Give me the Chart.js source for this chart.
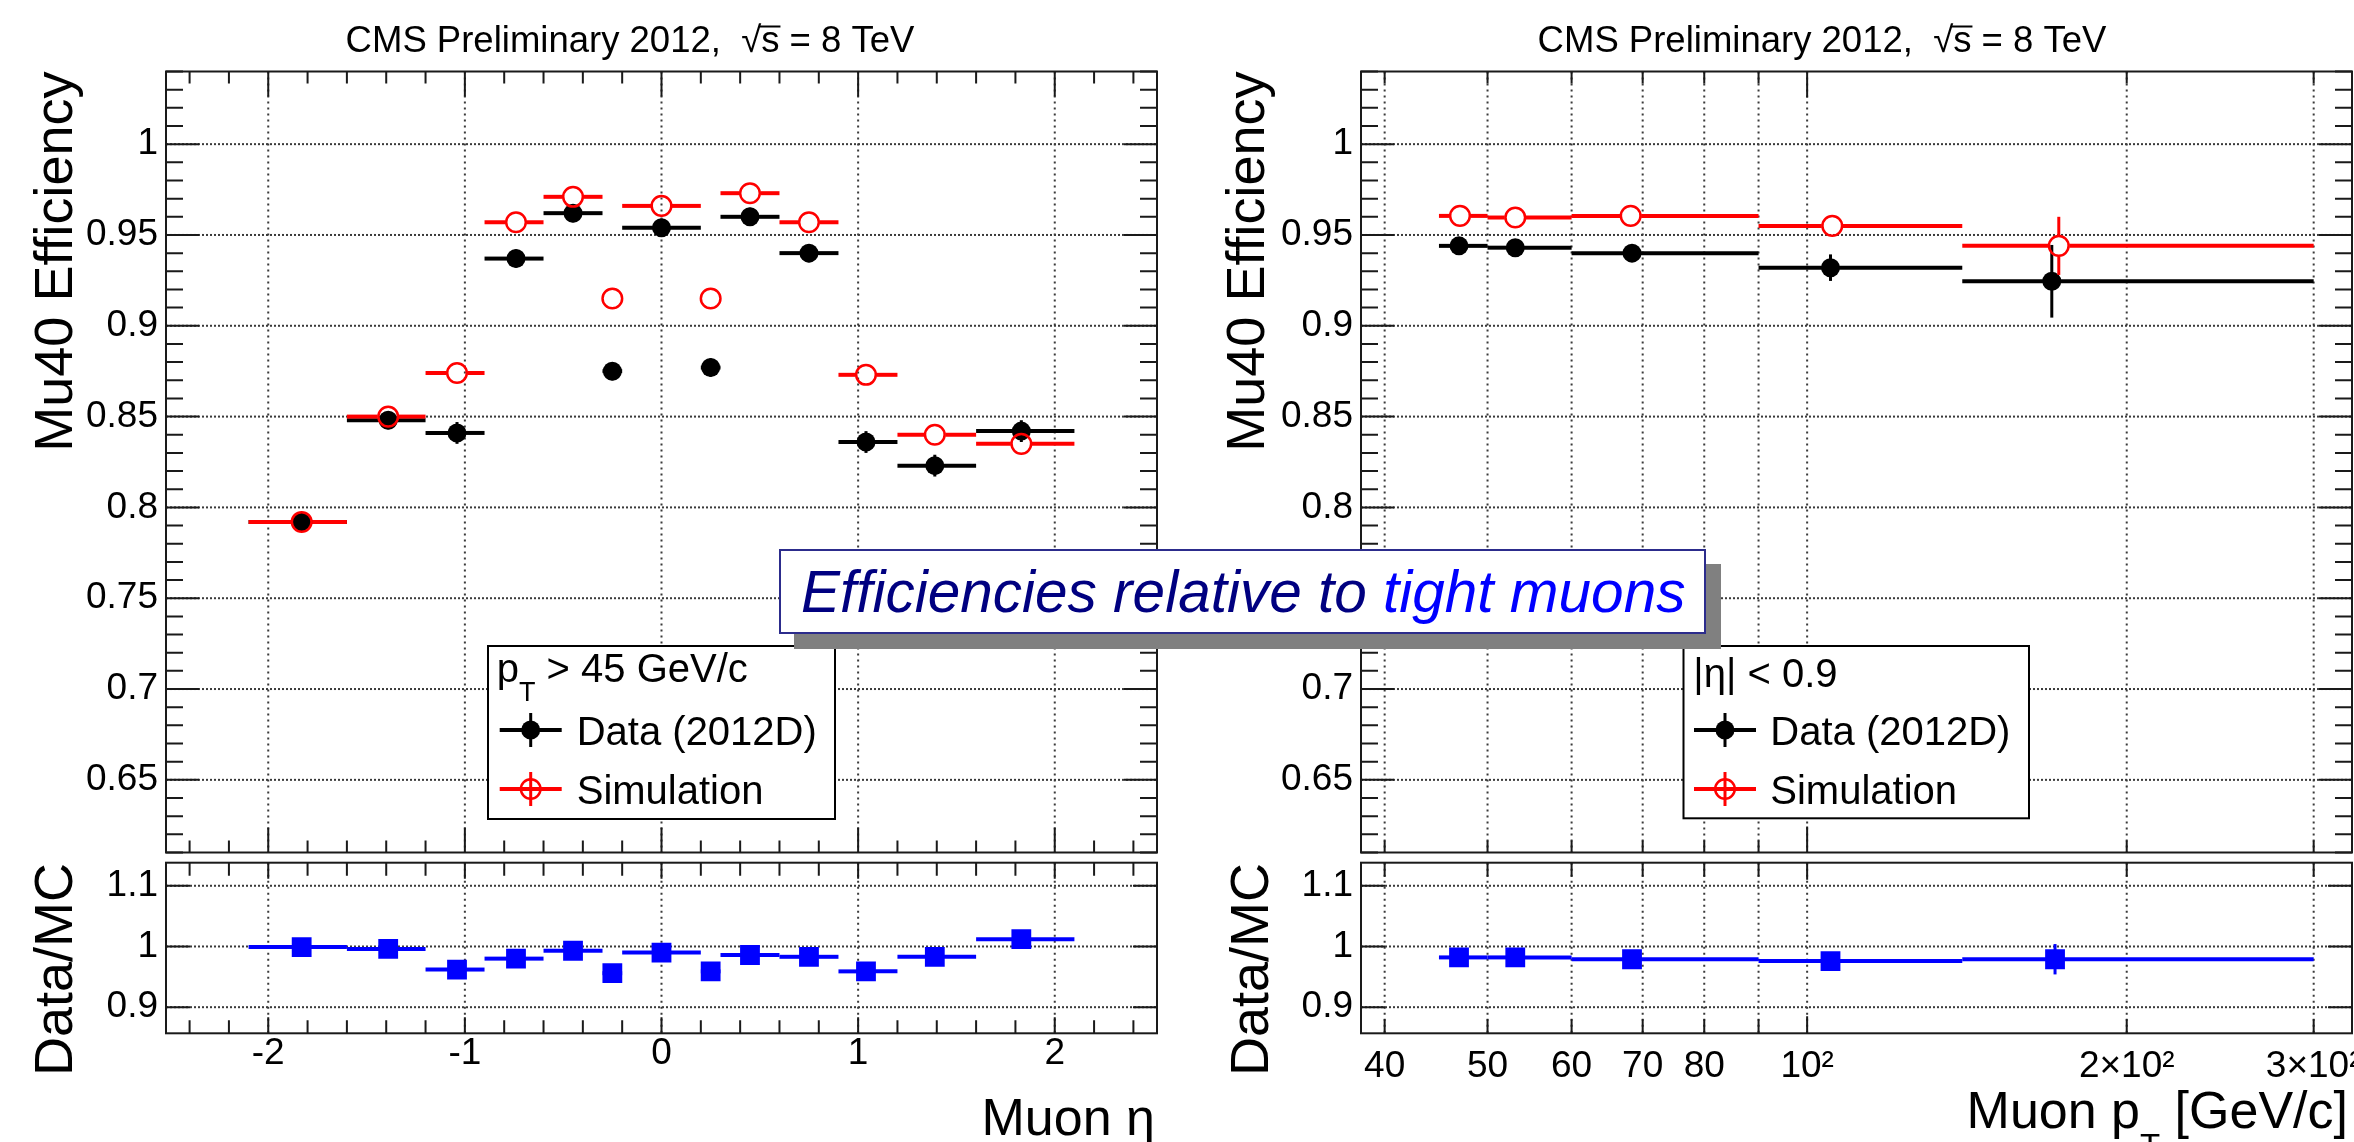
<!DOCTYPE html>
<html>
<head>
<meta charset="utf-8">
<title>Mu40 efficiency</title>
<script src="https://cdn.jsdelivr.net/npm/chart.js@4.4.1/dist/chart.umd.min.js"></script>
<style>
  html, body { margin:0; padding:0; background:#ffffff; overflow:hidden; }
  #page { position:relative; width:2354px; height:1142px; overflow:hidden; background:#ffffff; }
  #page canvas { position:absolute; }
  #note { position:absolute; left:779px; top:549px; width:903px; height:81px; padding-left:20px;
          border:2px solid #2c2c8c; background:#ffffff; box-shadow:15px 15px 0 #808080; z-index:10;
          font-family:"Liberation Sans", Arial, Helvetica, sans-serif; font-style:italic; font-size:58.5px;
          line-height:81px; white-space:nowrap; box-sizing:content-box; }
</style>
</head>
<body>
<div id="page">
  <canvas id="etaMain" width="1180" height="857" style="left:0px;top:0px"></canvas>
  <canvas id="etaRatio" width="1180" height="285" style="left:0px;top:857px"></canvas>
  <canvas id="ptMain" width="1174" height="857" style="left:1180px;top:0px"></canvas>
  <canvas id="ptRatio" width="1174" height="285" style="left:1180px;top:857px"></canvas>
  <div id="note"><span style="color:#000080">Efficiencies relative to</span> <span style="color:#0000ff">tight muons</span></div>
</div>
<script>
const FONT = '"Liberation Sans", Arial, Helvetica, sans-serif';

// ---------------- eta binned data ----------------
const etaBinLo   = [-2.1, -1.6, -1.2, -0.9, -0.6, -0.3, -0.2, 0.2, 0.3, 0.6, 0.9, 1.2, 1.6];
const etaBinHi   = [-1.6, -1.2, -0.9, -0.6, -0.3, -0.2, 0.2, 0.3, 0.6, 0.9, 1.2, 1.6, 2.1];
const etaPointX  = [-1.83, -1.39, -1.04, -0.74, -0.45, -0.25, 0.0, 0.25, 0.45, 0.75, 1.04, 1.39, 1.83];
const etaData    = [0.792, 0.848, 0.841, 0.937, 0.962, 0.875, 0.954, 0.877, 0.960, 0.940, 0.836, 0.823, 0.842];
const etaDataErr = [0.004, 0.005, 0.006, 0.005, 0.005, 0.005, 0.005, 0.005, 0.005, 0.005, 0.006, 0.006, 0.006];
const etaSim     = [0.792, 0.850, 0.874, 0.957, 0.971, 0.915, 0.966, 0.915, 0.973, 0.957, 0.873, 0.840, 0.835];
const etaSimErr  = [0.003, 0.003, 0.003, 0.003, 0.003, 0.003, 0.003, 0.003, 0.003, 0.003, 0.003, 0.003, 0.003];
const etaRatio   = [0.999, 0.996, 0.962, 0.980, 0.993, 0.956, 0.990, 0.959, 0.986, 0.983, 0.959, 0.983, 1.012];
const etaRatioErr= [0.012, 0.012, 0.012, 0.011, 0.010, 0.012, 0.011, 0.012, 0.011, 0.011, 0.012, 0.012, 0.012];

// ---------------- pT binned data ----------------
const ptBinLo    = [45, 50, 60, 90, 140];
const ptBinHi    = [50, 60, 90, 140, 300];
const ptDataX    = [47.0, 53.1, 68.4, 105.2, 170.0];
const ptSimX     = [47.1, 53.1, 68.2, 105.6, 172.6];
const ptRatioX   = [47.0, 53.1, 68.4, 105.2, 171.2];
const ptData     = [0.944, 0.943, 0.940, 0.932, 0.9245];
const ptDataErr  = [0.003, 0.003, 0.003, 0.0073, 0.020];
const ptSim      = [0.9605, 0.9596, 0.9605, 0.955, 0.944];
const ptSimErr   = [0.002, 0.002, 0.002, 0.003, 0.016];
const ptRatio    = [0.982, 0.982, 0.979, 0.976, 0.979];
const ptRatioErr = [0.007, 0.007, 0.007, 0.010, 0.025];

// ---------------- axes ----------------
const etaRange   = [-2.52, 2.52];
const ptRange    = [38, 326];
const effRange   = [0.61, 1.04];
const ratioRange = [0.857, 1.138];
const etaTickValues   = [-2, -1, 0, 1, 2];
const etaTickLabels   = ['-2', '-1', '0', '1', '2'];
const effTickValues   = [0.65, 0.7, 0.75, 0.8, 0.85, 0.9, 0.95, 1];
const ratioTickValues = [0.9, 1, 1.1];
const ptTickValues    = [40, 50, 60, 70, 80, 100, 200, 300];
const ptTickLabels    = ['40', '50', '60', '70', '80', '10\u00B2', '2\u00D710\u00B2', '3\u00D710\u00B2'];
const ptGridValues    = [40, 50, 60, 70, 80, 90, 100, 200, 300];

const etaMinorTicks = [];
for (let k = -12; k <= 12; k++) if (k % 5 !== 0) etaMinorTicks.push(k / 5);
const effMinorTicks = [];
for (let k = 61; k <= 104; k++) if (k % 5 !== 0) effMinorTicks.push(k / 100);

// ---------------- datasets ----------------
const pts = (xs, ys) => xs.map((x, i) => ({ x: x, y: ys[i] }));

function seriesData(xs, ys, errs, lo, hi) {
  return { label: 'Data (2012D)', data: pts(xs, ys), yErr: errs, binLo: lo, binHi: hi,
    lineColor: '#000000', hWidth: 4, vWidth: 3, gap: 0, showLine: false,
    pointStyle: 'circle', pointRadius: 9.5, pointHoverRadius: 9.5,
    backgroundColor: '#000000', borderColor: '#000000', borderWidth: 0, order: 2 };
}
function seriesSim(xs, ys, errs, lo, hi) {
  return { label: 'Simulation', data: pts(xs, ys), yErr: errs, binLo: lo, binHi: hi,
    lineColor: '#ff0000', hWidth: 4, vWidth: 3, gap: 10.5, showLine: false,
    pointStyle: 'circle', pointRadius: 9.8, pointHoverRadius: 9.8,
    backgroundColor: 'rgba(255,255,255,0)', borderColor: '#ff0000', borderWidth: 2.5, order: 1 };
}
function seriesRatio(xs, ys, errs, lo, hi) {
  return { label: 'Data/MC', data: pts(xs, ys), yErr: errs, binLo: lo, binHi: hi,
    lineColor: '#0000ff', hWidth: 4, vWidth: 3, gap: 0, showLine: false,
    pointStyle: 'rect', pointRadius: 14, pointHoverRadius: 14,
    backgroundColor: '#0000ff', borderColor: '#0000ff', borderWidth: 0, order: 1 };
}

// error bars drawn through the chart scales, right before each dataset (ROOT style: skip the marker area)
const errorBarPlugin = {
  id: 'rootErrorBars',
  beforeDatasetDraw(chart, args) {
    const ds = chart.data.datasets[args.index];
    if (!ds.yErr) return;
    const xs = chart.scales.x, ys = chart.scales.y, ctx = chart.ctx;
    const g = ds.gap || 0;
    const seg = (x1, y1, x2, y2) => { ctx.beginPath(); ctx.moveTo(x1, y1); ctx.lineTo(x2, y2); ctx.stroke(); };
    ctx.save();
    ctx.strokeStyle = ds.lineColor;
    ctx.lineCap = 'butt';
    ds.data.forEach((p, i) => {
      const px = xs.getPixelForValue(p.x), py = ys.getPixelForValue(p.y);
      const xl = xs.getPixelForValue(ds.binLo[i]), xr = xs.getPixelForValue(ds.binHi[i]);
      const yt = ys.getPixelForValue(p.y + ds.yErr[i]), yb = ys.getPixelForValue(p.y - ds.yErr[i]);
      ctx.lineWidth = ds.hWidth;
      if (px - g > xl) seg(xl, py, px - g, py);
      if (xr > px + g) seg(px + g, py, xr, py);
      ctx.lineWidth = ds.vWidth;
      if (py - g > yt) seg(px, yt, px, py - g);
      if (yb > py + g) seg(px, py + g, px, yb);
    });
    ctx.restore();
  }
};
Chart.register(errorBarPlugin);

// grid, inner ticks, frame, texts
function framePlugin(cfg) {
  return {
    id: 'rootFrame',
    beforeDatasetsDraw(chart) {
      const ctx = chart.ctx, a = chart.chartArea, x = chart.scales.x, y = chart.scales.y;
      ctx.save();
      ctx.strokeStyle = '#3a3a3a';
      ctx.lineWidth = 2;
      ctx.setLineDash([2, 4]);
      cfg.xGrid.forEach(v => {
        const p = x.getPixelForValue(v);
        ctx.beginPath(); ctx.moveTo(p, a.top); ctx.lineTo(p, a.bottom); ctx.stroke();
      });
      ctx.setLineDash([2, 2]);
      cfg.yGrid.forEach(v => {
        const p = y.getPixelForValue(v);
        ctx.beginPath(); ctx.moveTo(a.left, p); ctx.lineTo(a.right, p); ctx.stroke();
      });
      ctx.restore();
    },
    afterDatasetsDraw(chart) {
      const ctx = chart.ctx, a = chart.chartArea, x = chart.scales.x, y = chart.scales.y;
      ctx.save();
      ctx.setLineDash([]);
      ctx.strokeStyle = '#1a1a1a';
      ctx.lineWidth = 2;
      ctx.beginPath();
      cfg.xTicks.forEach(([v, len]) => {
        const p = x.getPixelForValue(v);
        ctx.moveTo(p, a.top); ctx.lineTo(p, a.top + len);
        ctx.moveTo(p, a.bottom); ctx.lineTo(p, a.bottom - len);
      });
      cfg.yTicks.forEach(([v, len]) => {
        const p = y.getPixelForValue(v);
        ctx.moveTo(a.left, p); ctx.lineTo(a.left + len, p);
        ctx.moveTo(a.right, p); ctx.lineTo(a.right - len, p);
      });
      ctx.stroke();
      ctx.strokeRect(a.left, a.top, a.right - a.left, a.bottom - a.top);
      ctx.restore();
    },
    afterDraw(chart) {
      if (cfg.text) { chart.ctx.save(); cfg.text(chart.ctx); chart.ctx.restore(); }
    }
  };
}

// ---------------- text helpers ----------------
function drawTitle(ctx, cx, baseline) {
  ctx.fillStyle = '#000'; ctx.strokeStyle = '#000';
  ctx.font = '36.5px ' + FONT; ctx.textAlign = 'left'; ctx.textBaseline = 'alphabetic';
  const pre = 'CMS Preliminary 2012,  ', rad = '\u221A', s = 's', post = ' = 8 TeV';
  const total = ctx.measureText(pre + rad + s + post).width;
  let x = cx - total / 2;
  ctx.fillText(pre, x, baseline); x += ctx.measureText(pre).width;
  ctx.fillText(rad, x, baseline); x += ctx.measureText(rad).width;
  ctx.fillText(s, x, baseline);
  const sw = ctx.measureText(s).width;
  ctx.lineWidth = 2;
  ctx.beginPath(); ctx.moveTo(x - 2, baseline - 25); ctx.lineTo(x + sw + 1, baseline - 25); ctx.stroke();
  x += sw;
  ctx.fillText(post, x, baseline);
}
function drawVTitle(ctx, text, baseX, topY, size) {
  ctx.save();
  ctx.translate(baseX, topY); ctx.rotate(-Math.PI / 2);
  ctx.font = size + 'px ' + FONT; ctx.fillStyle = '#000';
  ctx.textAlign = 'right'; ctx.textBaseline = 'alphabetic';
  ctx.fillText(text, 0, 0);
  ctx.restore();
}
function drawRich(ctx, parts, x, baseline, align) {
  ctx.fillStyle = '#000'; ctx.textAlign = 'left'; ctx.textBaseline = 'alphabetic';
  let total = 0;
  parts.forEach(p => { ctx.font = p.size + 'px ' + FONT; p.w = ctx.measureText(p.t).width; total += p.w; });
  let cx = align === 'right' ? x - total : x;
  parts.forEach(p => { ctx.font = p.size + 'px ' + FONT; ctx.fillText(p.t, cx, baseline + (p.dy || 0)); cx += p.w; });
}
function legendMarker(ctx, kind, mx, my) {
  const col = kind === 'data' ? '#000000' : '#ff0000';
  ctx.strokeStyle = col; ctx.fillStyle = col;
  ctx.lineWidth = 4;
  ctx.beginPath(); ctx.moveTo(mx - 31, my); ctx.lineTo(mx + 31, my); ctx.stroke();
  ctx.lineWidth = 3;
  ctx.beginPath(); ctx.moveTo(mx, my - 17); ctx.lineTo(mx, my + 17); ctx.stroke();
  ctx.beginPath();
  if (kind === 'data') { ctx.arc(mx, my, 9.5, 0, Math.PI * 2); ctx.fill(); }
  else { ctx.lineWidth = 2.5; ctx.arc(mx, my, 9.8, 0, Math.PI * 2); ctx.stroke(); }
}
function drawLegend(ctx, box, header, headerX, headerBase, markerX, textX, rows) {
  ctx.fillStyle = '#ffffff';
  ctx.fillRect(box[0], box[1], box[2] - box[0], box[3] - box[1]);
  ctx.strokeStyle = '#000'; ctx.lineWidth = 2;
  ctx.strokeRect(box[0], box[1], box[2] - box[0], box[3] - box[1]);
  drawRich(ctx, header, headerX, headerBase, 'left');
  rows.forEach(r => {
    legendMarker(ctx, r.kind, markerX, r.y);
    ctx.font = '40px ' + FONT; ctx.fillStyle = '#000'; ctx.textAlign = 'left'; ctx.textBaseline = 'alphabetic';
    ctx.fillText(r.label, textX, r.y + 14.5);
  });
}

// ---------------- scale builders ----------------
function resetPad(s) { s.paddingTop = 0; s.paddingBottom = 0; s.paddingLeft = 0; s.paddingRight = 0; }
function yScale(range, ticks, width) {
  return {
    type: 'linear', position: 'left', min: range[0], max: range[1],
    afterBuildTicks: s => { s.ticks = ticks.map(v => ({ value: v })); },
    afterFit: s => { s.width = width; resetPad(s); },
    grid: { display: false, drawTicks: false }, border: { display: false },
    ticks: { autoSkip: false, padding: 8, color: '#000',
             font: { family: FONT, size: 37, lineHeight: 1 },
             callback: v => String(Math.round(v * 100) / 100) }
  };
}
function xScale(type, range, ticks, labels, height, pad, show) {
  return {
    type: type, position: 'bottom', min: range[0], max: range[1], display: show,
    afterBuildTicks: s => { s.ticks = ticks.map(v => ({ value: v })); },
    afterFit: s => { s.height = show ? height : 0; resetPad(s); },
    grid: { display: false, drawTicks: false }, border: { display: false },
    ticks: { autoSkip: false, maxRotation: 0, minRotation: 0, padding: pad, color: '#000',
             font: { family: FONT, size: 37, lineHeight: 1 },
             callback: (v, i) => labels[i] }
  };
}
function baseOptions(scales, padding) {
  return {
    responsive: false, animation: false, devicePixelRatio: 1, events: [],
    layout: { autoPadding: false, padding: padding },
    plugins: { legend: { display: false }, tooltip: { enabled: false }, title: { display: false } },
    scales: scales
  };
}

const etaXTicksMain  = etaTickValues.map(v => [v, 25]).concat(etaMinorTicks.map(v => [v, 12]));
const etaXTicksRatio = etaTickValues.map(v => [v, 16]).concat(etaMinorTicks.map(v => [v, 13]));
const effYTicks      = effTickValues.map(v => [v, 33]).concat(effMinorTicks.map(v => [v, 17]));
const ratioYTicks    = ratioTickValues.map(v => [v, 24]);
const ptXTicksMain   = ptGridValues.map(v => [v, v === 100 ? 26 : 12]);
const ptXTicksRatio  = ptGridValues.map(v => [v, v === 100 ? 17 : 14]);

// ---------------- eta main ----------------
new Chart(document.getElementById('etaMain'), {
  type: 'scatter',
  data: { datasets: [
    seriesData(etaPointX, etaData, etaDataErr, etaBinLo, etaBinHi),
    seriesSim(etaPointX, etaSim, etaSimErr, etaBinLo, etaBinHi)
  ] },
  options: baseOptions({
    x: xScale('linear', etaRange, etaTickValues, etaTickLabels, 0, 0, false),
    y: yScale(effRange, effTickValues, 166)
  }, { left: 0, top: 71.5, right: 23, bottom: 4.5 }),
  plugins: [framePlugin({
    xGrid: etaTickValues, yGrid: effTickValues, xTicks: etaXTicksMain, yTicks: effYTicks,
    text: ctx => {
      drawTitle(ctx, 630, 51.5);
      drawVTitle(ctx, 'Mu40 Efficiency', 72, 71.5, 54);
      drawLegend(ctx, [488, 646, 835, 819],
        [{ t: 'p', size: 40 }, { t: 'T', size: 27, dy: 19 }, { t: ' > 45 GeV/c', size: 40 }],
        496.7, 681.5, 530.7, 576.7,
        [{ kind: 'data', label: 'Data (2012D)', y: 730 }, { kind: 'sim', label: 'Simulation', y: 789 }]);
    }
  })]
});

// ---------------- eta ratio ----------------
new Chart(document.getElementById('etaRatio'), {
  type: 'scatter',
  data: { datasets: [ seriesRatio(etaPointX, etaRatio, etaRatioErr, etaBinLo, etaBinHi) ] },
  options: baseOptions({
    x: xScale('linear', etaRange, etaTickValues, etaTickLabels, 108.7, 2, true),
    y: yScale(ratioRange, ratioTickValues, 166)
  }, { left: 0, top: 5.7, right: 23, bottom: 0 }),
  plugins: [framePlugin({
    xGrid: etaTickValues, yGrid: ratioTickValues, xTicks: etaXTicksRatio, yTicks: ratioYTicks,
    text: ctx => {
      drawVTitle(ctx, 'Data/MC', 71.7, 6, 54);
      drawRich(ctx, [{ t: 'Muon \u03B7', size: 52 }], 1155, 278, 'right');
    }
  })]
});

// ---------------- pT main ----------------
new Chart(document.getElementById('ptMain'), {
  type: 'scatter',
  data: { datasets: [
    seriesData(ptDataX, ptData, ptDataErr, ptBinLo, ptBinHi),
    seriesSim(ptSimX, ptSim, ptSimErr, ptBinLo, ptBinHi)
  ] },
  options: baseOptions({
    x: xScale('logarithmic', ptRange, ptTickValues, ptTickLabels, 0, 0, false),
    y: yScale(effRange, effTickValues, 181)
  }, { left: 0, top: 71.5, right: 2, bottom: 4.5 }),
  plugins: [framePlugin({
    xGrid: ptGridValues, yGrid: effTickValues, xTicks: ptXTicksMain, yTicks: effYTicks,
    text: ctx => {
      drawTitle(ctx, 642, 51.5);
      drawVTitle(ctx, 'Mu40 Efficiency', 84, 71.5, 54);
      drawLegend(ctx, [503.5, 646, 849, 818.3],
        [{ t: '|\u03B7| < 0.9', size: 40 }],
        513.3, 686.7, 545, 590.3,
        [{ kind: 'data', label: 'Data (2012D)', y: 730 }, { kind: 'sim', label: 'Simulation', y: 789 }]);
    }
  })]
});

// ---------------- pT ratio ----------------
new Chart(document.getElementById('ptRatio'), {
  type: 'scatter',
  data: { datasets: [ seriesRatio(ptRatioX, ptRatio, ptRatioErr, ptBinLo, ptBinHi) ] },
  options: baseOptions({
    x: xScale('logarithmic', ptRange, ptTickValues, ptTickLabels, 108.7, 15, true),
    y: yScale(ratioRange, ratioTickValues, 181)
  }, { left: 0, top: 5.7, right: 2, bottom: 0 }),
  plugins: [framePlugin({
    xGrid: ptGridValues, yGrid: ratioTickValues, xTicks: ptXTicksRatio, yTicks: ratioYTicks,
    text: ctx => {
      drawVTitle(ctx, 'Data/MC', 88, 6, 54);
      drawRich(ctx, [{ t: 'Muon p', size: 52 }, { t: 'T', size: 33, dy: 29 }, { t: ' [GeV/c]', size: 52 }],
        1168, 271.3, 'right');
    }
  })]
});
</script>
</body>
</html>
